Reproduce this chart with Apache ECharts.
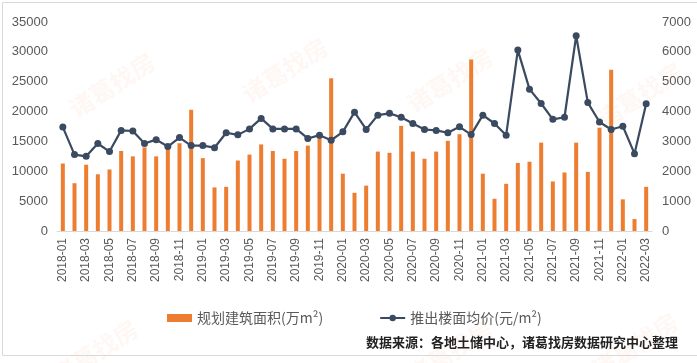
<!DOCTYPE html>
<html>
<head>
<meta charset="utf-8">
<script src="https://cdn.jsdelivr.net/npm/echarts@6/dist/echarts.min.js"></script>
<style>html,body{margin:0;padding:0;background:#fff;}#c{width:697px;height:363px;}</style>
</head>
<body>
<div id="c"></div>
<script>
const months = [
 '2018-01','2018-02','2018-03','2018-04','2018-05','2018-06','2018-07','2018-08','2018-09','2018-10','2018-11','2018-12',
 '2019-01','2019-02','2019-03','2019-04','2019-05','2019-06','2019-07','2019-08','2019-09','2019-10','2019-11','2019-12',
 '2020-01','2020-02','2020-03','2020-04','2020-05','2020-06','2020-07','2020-08','2020-09','2020-10','2020-11','2020-12',
 '2021-01','2021-02','2021-03','2021-04','2021-05','2021-06','2021-07','2021-08','2021-09','2021-10','2021-11','2021-12',
 '2022-01','2022-02','2022-03'];
const area = [
 11300, 8000, 11100, 9500, 10300, 13400, 12500, 14000, 12500, 13700, 14700, 20300,
 12200, 7300, 7400, 11800, 12800, 14500, 13400, 12100, 13400, 14300, 16000, 25600,
 9600, 6400, 7600, 13300, 13100, 17600, 13300, 12100, 13300, 15100, 16200, 28700,
 9600, 5400, 7900, 11400, 11600, 14800, 8300, 9800, 14800, 9900, 17300, 27000,
 5300, 2000, 7400];
const price = [
 3480, 2560, 2500, 2930, 2660, 3370, 3350, 2930, 3060, 2830, 3130, 2860,
 2860, 2790, 3290, 3220, 3420, 3770, 3420, 3420, 3420, 3100, 3210, 3040,
 3320, 3980, 3400, 3880, 3940, 3810, 3600, 3400, 3370, 3290, 3490, 3230,
 3880, 3600, 3210, 6060, 4750, 4270, 3740, 3810, 6540, 4300, 3650, 3400,
 3510, 2590, 4260];
const leftTicks = {min: 0, max: 35000, interval: 5000};
const rightTicks = {min: 0, max: 7000, interval: 1000};
const seriesNames = ['规划建筑面积(万m²)', '推出楼面均价(元/m²)'];
const sourceText = '数据来源：各地土储中心，诸葛找房数据研究中心整理';
const watermark = '诸葛找房';

const chart = echarts.init(document.getElementById('c'), null, {renderer: 'canvas'});
const wmPos = [[112, 85], [285, 70], [450, 80], [640, 95], [95, 352], [450, 352], [635, 345]];
const font = '"Liberation Sans", "Noto Sans CJK SC", sans-serif';
chart.setOption({
  backgroundColor: '#fff',
  animation: false,
  textStyle: {fontFamily: font},
  grid: {left: 57, right: 45, top: 22, bottom: 132},
  legend: {
    left: 162, top: 306, itemWidth: 25, itemHeight: 8, itemGap: 56,
    textStyle: {fontSize: 14, color: '#595959', fontFamily: '"Noto Sans CJK SC", sans-serif'},
    data: [{name: seriesNames[0], icon: 'rect'}, {name: seriesNames[1]}]
  },
  xAxis: {
    type: 'category', data: months,
    axisTick: {show: false},
    axisLine: {lineStyle: {color: '#D9D9D9'}},
    axisLabel: {interval: 1, rotate: 90, fontSize: 12, color: '#595959', margin: 7}
  },
  yAxis: [
    {type: 'value', min: leftTicks.min, max: leftTicks.max, interval: leftTicks.interval,
     splitLine: {show: false}, axisLine: {show: false}, axisTick: {show: false},
     axisLabel: {fontSize: 13, color: '#595959', margin: 9, formatter: v => String(v)}},
    {type: 'value', min: rightTicks.min, max: rightTicks.max, interval: rightTicks.interval,
     splitLine: {show: false}, axisLine: {show: false}, axisTick: {show: false},
     axisLabel: {fontSize: 13, color: '#595959', margin: 10, formatter: v => String(v)}}
  ],
  series: [
    {name: seriesNames[0], type: 'bar', data: area, barWidth: 4, yAxisIndex: 0,
     itemStyle: {color: '#ED7D31'}},
    {name: seriesNames[1], type: 'line', data: price, yAxisIndex: 1,
     symbol: 'circle', symbolSize: 7,
     lineStyle: {color: '#3A4A60', width: 2.2},
     itemStyle: {color: '#3A4A60'}}
  ],
  graphic: [
    {type: 'rect', left: 0, top: 0, shape: {width: 695, height: 353},
     style: {fill: 'none', stroke: '#D9D9D9', lineWidth: 1}, z: -1},
    {type: 'text', right: 19, top: 336,
     style: {text: sourceText, font: 'bold 13px "Noto Sans CJK SC", sans-serif', fill: '#222'}}
  ].concat(wmPos.map(p => ({
    type: 'text', x: p[0], y: p[1], rotation: Math.PI / 5.5, silent: true, z: -2,
    style: {text: watermark, font: 'bold 24px "Noto Sans CJK SC", sans-serif',
            fill: 'rgba(237,125,49,0.06)', align: 'center', verticalAlign: 'middle'}
  })))
});
</script>
</body>
</html>
